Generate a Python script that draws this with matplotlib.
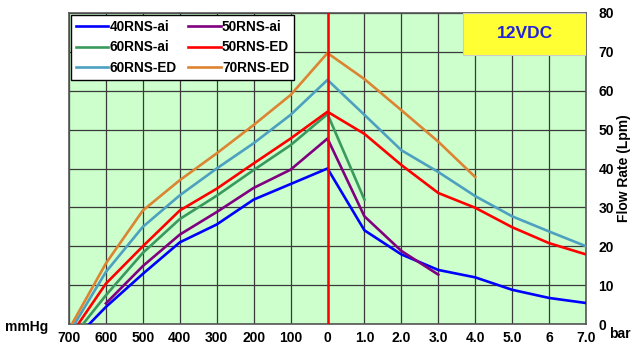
import matplotlib
matplotlib.use("Agg")
import matplotlib.pyplot as plt
from matplotlib.patches import Rectangle

plt.rcParams['font.family'] = ['Liberation Sans', 'DejaVu Sans']

# ---- data ----
names = ["40RNS-ai", "50RNS-ai", "60RNS-ai", "50RNS-ED", "60RNS-ED", "70RNS-ED"]
colors = ["#0000FF", "#800080", "#3A9A5E", "#FF0000", "#4DA0C0", "#DD8433"]

# vacuum side (mmHg) and flow (Lpm)
vac_40ai = [645, 600, 500, 400, 300, 200, 100, 0]
flow_vac_40ai = [0, 4.4, 12.9, 21, 25.6, 32, 36, 40]
vac_50ai = [600, 500, 400, 300, 200, 100, 0]
flow_vac_50ai = [5.3, 14.9, 23, 28.8, 35, 39.7, 47.7]
vac_60ai = [662, 600, 500, 400, 300, 200, 100, 0]
flow_vac_60ai = [0, 7.4, 18.3, 27, 33, 39.6, 46, 54]
vac_50ed = [675, 600, 500, 400, 300, 200, 100, 0]
flow_vac_50ed = [0, 10.4, 20, 29.2, 34.8, 41.3, 47.7, 54.6]
vac_60ed = [685, 600, 500, 400, 300, 200, 100, 0]
flow_vac_60ed = [0, 13.4, 25, 33.1, 40, 46.5, 53.8, 62.8]
vac_70ed = [692, 600, 500, 400, 300, 200, 100, 0]
flow_vac_70ed = [0, 15.6, 29.2, 37, 43.9, 51.2, 58.9, 69.7]

# pressure side (bar) and flow (Lpm)
pres_40ai = [0, 1, 2, 3, 4, 5, 6, 7]
flow_pres_40ai = [40, 24.1, 17.9, 13.9, 12.0, 8.8, 6.7, 5.4]
pres_50ai = [0, 1, 2, 3]
flow_pres_50ai = [47.7, 27.7, 18.8, 12.7]
pres_60ai = [0, 1]
flow_pres_60ai = [54, 32]
pres_50ed = [0, 1, 2, 3, 4, 5, 6, 7]
flow_pres_50ed = [54.6, 48.9, 40.9, 33.7, 29.9, 24.9, 20.8, 17.9]
pres_60ed = [0, 1, 2, 3, 4, 5, 6, 7]
flow_pres_60ed = [62.8, 53.8, 44.7, 39.1, 32.9, 27.7, 23.8, 20]
pres_70ed = [0, 1, 2, 3, 4]
flow_pres_70ed = [69.7, 63, 55, 46.9, 37.8]

vac_ticks = [700, 600, 500, 400, 300, 200, 100]
pres_ticks = [0, 1, 2, 3, 4, 5, 6, 7]
pres_tick_labels = ["0", "1.0", "2.0", "3.0", "4.0", "5.0", "6", "7.0"]
y_ticks = [0, 10, 20, 30, 40, 50, 60, 70, 80]

series = [
    (vac_40ai, flow_vac_40ai, pres_40ai, flow_pres_40ai),
    (vac_50ai, flow_vac_50ai, pres_50ai, flow_pres_50ai),
    (vac_60ai, flow_vac_60ai, pres_60ai, flow_pres_60ai),
    (vac_50ed, flow_vac_50ed, pres_50ed, flow_pres_50ed),
    (vac_60ed, flow_vac_60ed, pres_60ed, flow_pres_60ed),
    (vac_70ed, flow_vac_70ed, pres_70ed, flow_pres_70ed),
]

def vac_to_x(m):
    return -m / 100.0

# ---- figure ----
fig = plt.figure(figsize=(6.36, 3.52), dpi=100)
ax = fig.add_axes([69/636, 1 - 324/352, 517/636, 311/352])
ax.set_facecolor("#CCFFCC")

handles = []
for (vm, vf, pb, pf), name, c in zip(series, names, colors):
    xs = [vac_to_x(m) for m in vm] + list(pb[1:])
    ys = list(vf) + list(pf[1:])
    h, = ax.plot(xs, ys, color=c, lw=1.9, label=name, zorder=3)
    handles.append(h)

ax.axvline(0, color="#FF0000", lw=1.8, zorder=4)

ax.set_xlim(-7, 7)
ax.set_ylim(0, 80)
xt = [vac_to_x(m) for m in vac_ticks] + pres_ticks
xl = [str(m) for m in vac_ticks] + pres_tick_labels
ax.set_xticks(xt)
ax.set_xticklabels(xl, fontsize=10, fontweight='bold')
ax.set_yticks(y_ticks)
ax.set_yticklabels([str(v) for v in y_ticks], fontsize=10, fontweight='bold')
ax.yaxis.tick_right()
ax.tick_params(axis='y', length=0, pad=9)
ax.tick_params(axis='x', length=0, pad=5)
ax.grid(True, color="#3a3a3a", lw=0.9, zorder=1)
ax.set_axisbelow(True)
for s in ax.spines.values():
    s.set_color("#555555")
    s.set_linewidth(1.2)

# legend: row-wise order in 2 columns
order = [0, 2, 4, 1, 3, 5]
leg = ax.legend([handles[i] for i in order], [names[i] for i in order],
                loc='upper left', bbox_to_anchor=(0.004, 0.994), ncol=2,
                fancybox=False, framealpha=1, edgecolor='black',
                prop={'weight': 'bold', 'size': 9.8}, handlelength=2.4,
                handletextpad=0.1, columnspacing=0.8, labelspacing=0.5,
                borderpad=0.35, borderaxespad=0)
leg.get_frame().set_linewidth(1.0)
leg.set_zorder(5)

# 12VDC box
ax.add_patch(Rectangle((0.762, 0.865), 0.238, 0.135, transform=ax.transAxes,
                       facecolor="#FFFF33", edgecolor="#CCCCCC", lw=0.8, zorder=5))
ax.text(0.762 + 0.119, 0.865 + 0.0675, "12VDC", transform=ax.transAxes,
        ha='center', va='center', fontsize=12.5, fontweight='bold',
        color="#2222DD", zorder=6)

fig.text(624/636, 1 - 168/352, "Flow Rate (Lpm)", rotation=90, ha='center',
         va='center', fontsize=10, fontweight='bold')
fig.text(5/636, 1 - 327/352, "mmHg", ha='left', va='center', fontsize=10,
         fontweight='bold')
fig.text(609/636, 1 - 334/352, "bar", ha='left', va='center', fontsize=10,
         fontweight='bold')

fig.savefig("out.png", dpi=100)
